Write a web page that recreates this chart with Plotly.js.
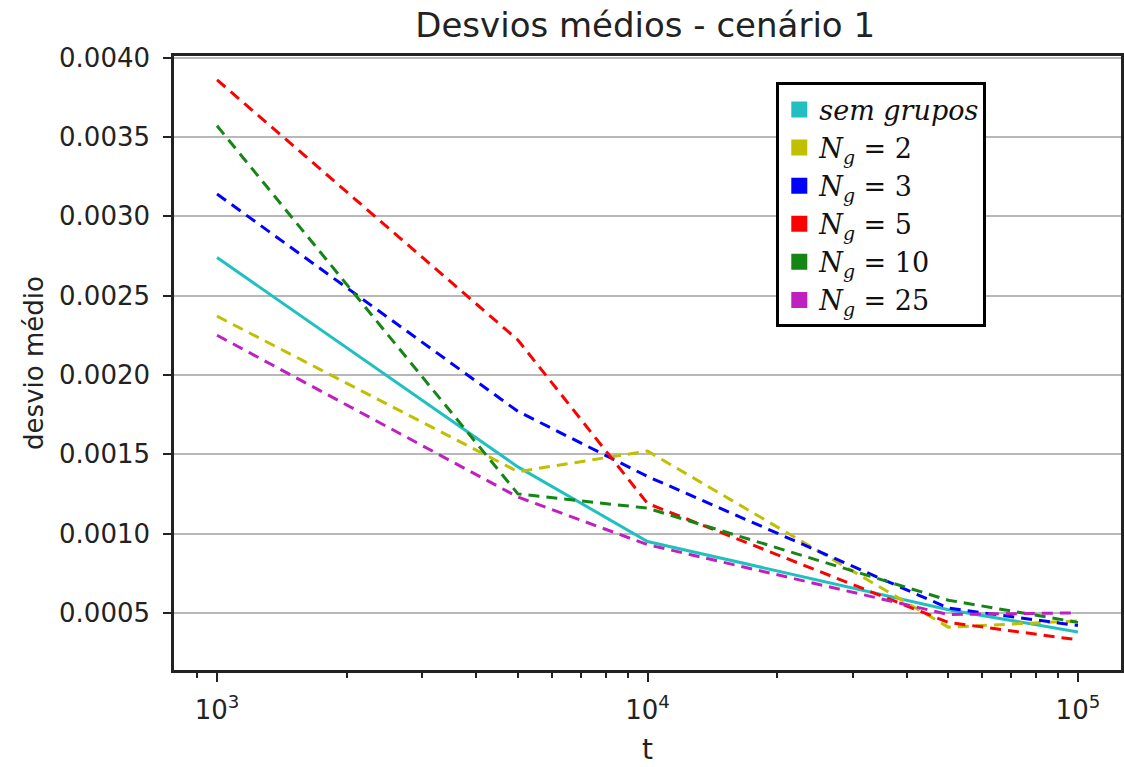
<!DOCTYPE html>
<html><head><meta charset="utf-8">
<script src="https://cdn.plot.ly/plotly-3.0.1.min.js"></script>
<style>html,body{margin:0;padding:0;background:#fff}</style>
</head><body>
<div id="chart" style="width:1124px;height:767px"></div>
<script>
const t = [1000, 5000, 10000, 50000, 100000];
const semGrupos = [0.00274, 0.00142, 0.00095, 0.00052, 0.00038];
const ng2  = [0.00237, 0.00139, 0.00152, 0.00041, 0.00045];
const ng3  = [0.00314, 0.00177, 0.00136, 0.00053, 0.00042];
const ng5  = [0.00386, 0.00222, 0.00119, 0.00044, 0.00033];
const ng10 = [0.00357, 0.00125, 0.00116, 0.00058, 0.00044];
const ng25 = [0.00225, 0.00123, 0.00093, 0.00049, 0.00050];
const sp = '\u00a0';
const ngLabel = n => '<i>N</i><sub><i>g</i></sub>' + sp + '=' + sp + n;
const names = ['<i>sem grupos</i>', ngLabel(2), ngLabel(3), ngLabel(5), ngLabel(10), ngLabel(25)];
const colors = ['#20c0c0', '#c0c000', '#0000ff', '#ff0000', '#158515', '#c020c0'];
const series = [semGrupos, ng2, ng3, ng5, ng10, ng25];
const dashes = ['solid', '11px,7px', '11px,7px', '11px,7px', '11px,7px', '11px,7px'];
const xTickVals = [1000, 10000, 100000];
const xTickText = ['10<sup>3</sup>', '10<sup>4</sup>', '10<sup>5</sup>'];
const xMinorVals = [900, 2000, 3000, 4000, 5000, 6000, 7000, 8000, 9000,
  20000, 30000, 40000, 50000, 60000, 70000, 80000, 90000];
const yTickVals = [0.0005, 0.0010, 0.0015, 0.0020, 0.0025, 0.0030, 0.0035, 0.0040];

const traces = [];
series.forEach((ys, i) => {
  traces.push({x: t, y: ys, mode: 'lines', showlegend: false,
    line: {color: colors[i], width: 3, dash: dashes[i]}});
});
series.forEach((ys, i) => {
  traces.push({x: [null], y: [null], mode: 'markers', name: names[i],
    marker: {symbol: 'square', size: 20, color: colors[i]}});
});

const layout = {
  width: 1124, height: 767,
  margin: {l: 174, r: 3, t: 56, b: 97},
  paper_bgcolor: '#fff', plot_bgcolor: '#fff',
  font: {family: 'DejaVu Sans', size: 24, color: '#222'},
  title: {text: 'Desvios médios - cenário 1', x: 0.574, xanchor: 'center', y: 0.967, yanchor: 'middle',
    font: {family: 'DejaVu Sans', size: 34, color: '#222'}},
  xaxis: {type: 'log', range: [2.9, 5.1], tickvals: xTickVals, ticktext: xTickText,
    ticks: 'outside', ticklen: 9, tickwidth: 2, tickcolor: '#222', ticklabelstandoff: 6,
    showgrid: false, zeroline: false, showline: true, linecolor: '#222', linewidth: 2.5, mirror: true,
    minor: {tickvals: xMinorVals, ticks: 'outside', ticklen: 5, tickwidth: 1.5, tickcolor: '#222', showgrid: false},
    tickfont: {size: 26}, title: {text: 't', font: {size: 28}, standoff: 16}},
  yaxis: {range: [0.00014, 0.00401], tickvals: yTickVals, tickformat: '.4f',
    ticks: 'outside', ticklen: 8, tickwidth: 2, tickcolor: '#222', ticklabelstandoff: 8,
    showgrid: true, gridcolor: '#b8b8b8', gridwidth: 2, zeroline: false,
    showline: true, linecolor: '#222', linewidth: 2.5, mirror: true,
    tickfont: {size: 26}, title: {text: 'desvio médio', font: {size: 26}, standoff: 8}},
  legend: {x: 0.636, y: 0.957, xanchor: 'left', yanchor: 'top',
    bgcolor: '#fff', bordercolor: '#000', borderwidth: 3,
    font: {family: 'DejaVu Serif', size: 27, color: '#111'},
    itemwidth: 30, tracegroupgap: 0, entrywidth: 210, entrywidthmode: 'pixels'}
};
Plotly.newPlot('chart', traces, layout, {displayModeBar: false});
</script>
</body></html>
